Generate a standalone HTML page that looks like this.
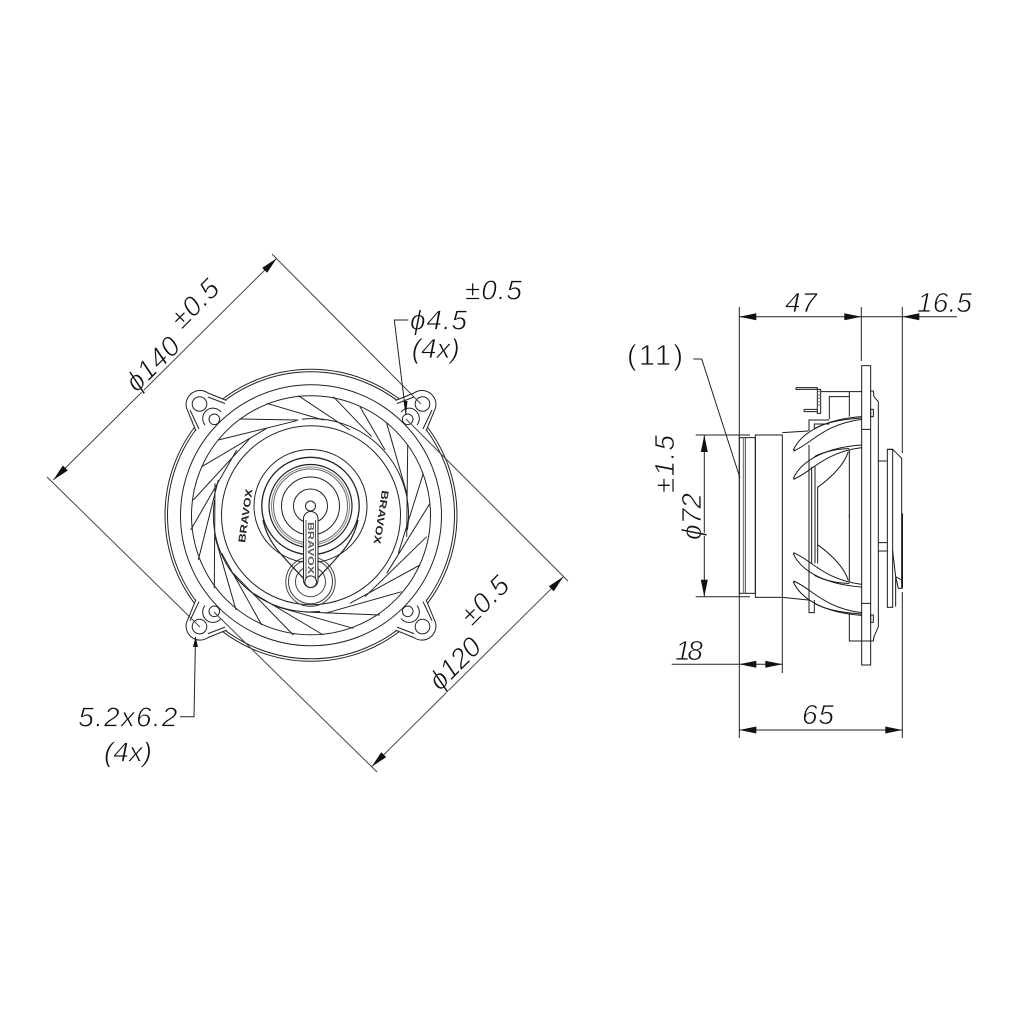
<!DOCTYPE html>
<html><head><meta charset="utf-8"><title>Speaker drawing</title>
<style>
html,body{margin:0;padding:0;background:#fff}
svg{display:block}
.l *,.l{fill:none;stroke:#222;stroke-width:1}
.s *,.s{fill:none;stroke:#1a1a1a;stroke-width:3}
.t{font-family:"Liberation Sans",sans-serif;font-style:italic;font-size:28px;fill:#111;stroke:#fff;stroke-width:.7px}
.u{font-style:normal}
.b{font-family:"Liberation Sans",sans-serif;font-weight:bold;fill:#222;stroke:none}
</style></head><body>
<svg xmlns="http://www.w3.org/2000/svg" width="1024" height="1024" viewBox="0 0 1024 1024">
<defs>
<polygon id="a" points="0,0 -17,-3.5 -17,3.5" fill="#111"/>
<g id="ear">
<path d="M196,431 L186.5,408 A14,14 0 0 1 208,393 L226.5,400.5 L260,450 L240,460 Z" fill="#fff" stroke="none"/>
<path d="M196,431 L186.5,408 A14,14 0 0 1 208,393 L226.5,400.5" fill="none"/>
<path d="M199,429 L190,410 M208,397 L225,403.5" fill="none"/>
<circle cx="199.5" cy="404" r="7.3"/>
<circle cx="214.3" cy="419.3" r="5.3"/>
<path d="M205,425 A10,10 0 0 1 221,412"/>
</g>
<g id="rib">
<path d="M190,300 C215,245 290,207 395,200"/>
<path d="M190,303 C240,285 280,222 395,208"/>
<path d="M253,236 C285,218 330,208 395,204"/>
<path d="M190,385 C215,330 290,292 395,285"/>
<path d="M190,388 C240,370 280,307 395,293"/>
<path d="M253,320 C285,303 330,296 358,296"/>
<path d="M358,300 L358,500"/>
<path d="M355,305 C340,350 300,385 263,412"/>
<path d="M195,303 L190,297 M195,388 L190,382"/>
</g>
</defs>

<!-- FRONT VIEW -->
<g class="l">
<circle cx="311" cy="515.3" r="146"/>
<circle cx="311" cy="515.3" r="143.5"/>
<use href="#ear"/>
<use href="#ear" transform="translate(622,0) scale(-1,1)"/>
<use href="#ear" transform="translate(0,1030.6) scale(1,-1)"/>
<use href="#ear" transform="translate(622,1030.6) scale(-1,-1)"/>
<circle cx="311" cy="515.3" r="130.5"/>
<circle cx="311" cy="515.3" r="119.5"/>
<circle cx="311" cy="515.3" r="89.5"/>
<path d="M214.6,500 A96.5,96.5 0 0 0 320,611.4"/>
<path d="M302,419.2 A96.5,96.5 0 0 1 407.4,530"/>
<!-- blades -->
<path d="M266.7,403.3 L323.3,420"/>
<path d="M298.3,395.7 L350,430"/>
<path d="M333.3,396.7 L371.7,436.7"/>
<path d="M360,406.7 L385,450"/>
<path d="M386.7,423.3 L406.7,493"/>
<path d="M407.7,445 L406.7,536.7"/>
<path d="M423.3,473.3 L398.3,553.3"/>
<path d="M430,503.3 L386.7,573.3"/>
<path d="M426.7,536.7 L365,596.7"/>
<path d="M420,565 L350,603.3"/>
<path d="M401.7,591.7 L325,613.3"/>
<path d="M380,615 L305,612"/>
<path d="M353.3,628.3 L276.7,606.7"/>
<path d="M323.3,635 L253.3,593.3"/>
<path d="M293.3,635 L233.3,573.3"/>
<path d="M261.7,625 L221.7,553.3"/>
<path d="M236,610 L215,536.7"/>
<path d="M214.3,588.3 L215,483.3"/>
<path d="M198.3,560 L218.3,480"/>
<path d="M190.7,530 L236.7,450"/>
<path d="M193.3,500 L250,438.3"/>
<path d="M201.7,466.7 L266.7,428.3"/>
<path d="M218.3,440 L296.7,420.7"/>
<path d="M240,419 L298.3,420"/>
<!-- tweeter lower -->
<circle cx="310.5" cy="581.7" r="24.7" style="stroke:#444"/>
<circle cx="310.5" cy="581.7" r="22" style="stroke:#444"/>
<circle cx="310.5" cy="581.7" r="15" style="stroke:#444"/>
<!-- cone -->
<circle cx="310.5" cy="506" r="56.5"/>
<circle cx="310.5" cy="506" r="48.7" style="stroke-width:1.3"/>
<circle cx="310.5" cy="506" r="41.5" style="stroke-width:1.2"/>
<circle cx="310.5" cy="506" r="39" style="stroke:#888"/>
<circle cx="310.5" cy="506" r="37" style="stroke:#666"/>
<circle cx="310.5" cy="506" r="29"/>
<circle cx="310.5" cy="506" r="17"/>
<circle cx="310.5" cy="506" r="5"/>
<path d="M263,520 C268,545 285,558 304,579" style="stroke-width:1.2"/>
<path d="M358,520 C353,545 336,558 317,579" style="stroke-width:1.2"/>
<rect x="303.5" y="511.5" width="14.5" height="76" rx="7.2" style="fill:#fff"/>
<path d="M306,520 V578 M315.5,520 V578" style="stroke:#555"/>
<circle cx="310.7" cy="581.7" r="5.8" style="fill:#fff"/>
</g>
<text class="b" font-size="10" transform="translate(245,543) rotate(-82)" textLength="54" lengthAdjust="spacingAndGlyphs">BRAVOX</text>
<text class="b" font-size="10" transform="translate(382,490) rotate(99)" textLength="54" lengthAdjust="spacingAndGlyphs">BRAVOX</text>
<text class="b" font-size="8" fill-opacity=".75" transform="translate(307.8,522) rotate(90)" textLength="52" lengthAdjust="spacingAndGlyphs">BRAVOX</text>

<!-- front dims -->
<g class="l">
<path d="M53.3,480 L276.7,258.3 M272,254 L421,404 M47,477 L200,627" style="stroke:#444"/>
<path d="M371.7,766.7 L563.3,576.7 M406,419 L568,581 M214,612 L377,772" style="stroke:#444"/>
<path d="M408.3,320 H394.3 L406,415"/>
<path d="M180,716.7 H194 L195.5,637"/>
</g>
<use href="#a" transform="translate(276.7,258.3) rotate(-45)"/>
<use href="#a" transform="translate(53.3,480) rotate(135)"/>
<use href="#a" transform="translate(563.3,576.7) rotate(-45)"/>
<use href="#a" transform="translate(371.7,766.7) rotate(135)"/>
<polygon points="406,415 403.5,401 407.5,401" fill="#111"/>
<polygon points="195.6,636.5 193,647 198,647" fill="#111"/>
<text class="t" transform="translate(136.7,393.3) rotate(-45)" textLength="64">ϕ140</text>
<text class="t" transform="translate(181.7,330) rotate(-45)" textLength="56">±0.5</text>
<text class="t" transform="translate(440,691.7) rotate(-45)" textLength="61">ϕ120</text>
<text class="t" transform="translate(471.7,626.7) rotate(-45)" textLength="56">±0.5</text>
<text class="t" x="465" y="299.3" textLength="57">±0.5</text>
<text class="t" x="410" y="329.3" textLength="57">ϕ4.5</text>
<text class="t" x="411.7" y="358" textLength="48">(4x)</text>
<text class="t" x="78.3" y="726.7" textLength="99">5.2x6.2</text>
<text class="t" x="104" y="761.7" textLength="48">(4x)</text>

<!-- SIDE VIEW -->
<g class="s" transform="translate(730,350) scale(.33333)">
<rect x="28" y="263" width="48" height="467"/>
<path d="M40,263 V730" style="stroke:#666"/>
<path d="M46,263 V730" style="stroke:#444"/>
<rect x="76" y="255" width="81" height="487"/>
<path d="M157,248 L235,243 M157,742 L235,750"/>
<!-- flange -->
<rect x="395" y="47" width="27" height="898"/>
<path d="M395,238 H422 M395,760 H422"/>
<path d="M422,123 H430 L432,140 L445,155 V830 L432,860 L430,873 H395"/>
<path d="M272,125 H395 M358,125 V200 M298,207 V140 H358"/>
<path d="M358,790 V873 H395"/>
<rect x="422" y="178" width="8" height="22"/>
<rect x="422" y="795" width="8" height="22"/>
<!-- terminal -->
<path d="M198,113 H262 V190 H272 V118 H262 M198,113 V118 H262"/>
<path d="M222,178 H262 M222,185 H262 M222,178 V185"/>
<path d="M262,125 H272 M262,135 H272 M262,145 H272 M262,155 H272 M262,165 H272" style="stroke:#777"/>
<!-- frame -->
<path d="M237,243 V210 H298 M253,236 V222 H298"/>
<path d="M237,285 V750 M245,350 V640"/>
<path d="M255,350 V640 M263,410 V640"/>
<path d="M237,750 V788 H253 V750"/>
<use href="#rib"/>
<use href="#rib" transform="translate(0,996) scale(1,-1)"/>
<!-- tweeter right -->
<path d="M445,333 H472 M445,578 H472 M445,603 H472"/>
<rect x="472" y="298" width="16" height="474"/>
<path d="M472,298 H488 L515,325 V700"/>
<path d="M517,490 V715" style="stroke-width:4"/>
<path d="M488,603 L497,680 V770 M497,680 L515,690 V715 H505 L497,680"/>
</g>

<!-- side dims -->
<g class="l">
<path d="M739.3,307 V738"/>
<path d="M861.3,307 V361"/>
<path d="M902.3,307 V453 M902.3,592 V738"/>
<path d="M782.3,597 V673"/>
<path d="M739.3,316.7 H957"/>
<path d="M739.3,730 H902.3"/>
<path d="M671.7,664.3 H782.3"/>
<path d="M695.7,435 H750 M695.7,596.7 H750 M704.3,435 V596.7"/>
<path d="M693.3,359 H701.7 L740,478"/>
</g>
<use href="#a" transform="translate(739.3,316.7) rotate(180)"/>
<use href="#a" transform="translate(861.3,316.7)"/>
<use href="#a" transform="translate(902.3,316.7) rotate(180)"/>
<use href="#a" transform="translate(739.3,664.3) rotate(180)"/>
<use href="#a" transform="translate(782.3,664.3)"/>
<use href="#a" transform="translate(739.3,730) rotate(180)"/>
<use href="#a" transform="translate(902.3,730)"/>
<use href="#a" transform="translate(704.3,435) rotate(-90)"/>
<use href="#a" transform="translate(704.3,596.7) rotate(90)"/>
<text class="t" x="785" y="312" textLength="32">47</text>
<text class="t" x="917" y="312" textLength="55">16.5</text>
<text class="t u" x="627" y="365" textLength="56" style="font-size:29px">(11)</text>
<text class="t" transform="translate(674,493) rotate(-90)" textLength="58">±1.5</text>
<text class="t" transform="translate(701,540) rotate(-90)" textLength="47">ϕ72</text>
<text class="t" x="675" y="660" textLength="28">18</text>
<text class="t" x="802" y="724" textLength="32">65</text>
</svg>
</body></html>
